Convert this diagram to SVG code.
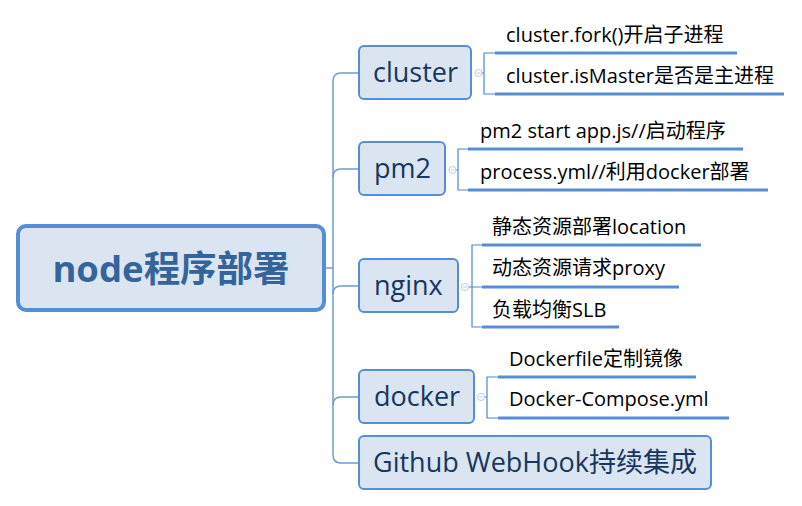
<svg xmlns="http://www.w3.org/2000/svg" width="802" height="506" viewBox="0 0 802 506">
<style>
.bg{fill:#ffffff}
.node rect{fill:#dbe5f1;stroke:#558ed5;stroke-width:2}
.root rect{fill:#dbe5f1;stroke:#558ed5;stroke-width:4}
.nt{font-family:"Open Sans","Noto Sans CJK SC",sans-serif;font-size:27px;fill:#17375e}
.rt{font-family:"Open Sans","Noto Sans CJK SC",sans-serif;font-size:36.5px;font-weight:bold;fill:#35649b}
.ct{font-family:"Open Sans","Noto Sans CJK SC",sans-serif;font-size:20px;fill:#000000}
.trunk{fill:none;stroke:#6f9bd6;stroke-width:1.5}
.br{fill:none;stroke:#4f86cf;stroke-width:1.2}
.ul{stroke:#558ed5;stroke-width:3}
.col circle{fill:#ffffff;stroke:#b7cbea;stroke-width:1}
.col line{stroke:#b7cbea;stroke-width:1}
</style>
<rect class="bg" x="0" y="0" width="802" height="506"/>
<g id="connectors">
  <path class="trunk" d="M326,268 H333"/>
  <path class="trunk" d="M359,73 H341 Q333,73 333,81 V455 Q333,463 341,463 H359"/>
  <path class="trunk" d="M333,177 Q333,169 341,169 H359"/>
  <path class="trunk" d="M333,294 Q333,286 341,286 H359"/>
  <path class="trunk" d="M333,405 Q333,397 341,397 H359"/>
  <!-- cluster children -->
  <path class="br" d="M482,73 H484 M495,53 H484 V94 H495"/>
  <line class="ul" x1="495" y1="53" x2="737" y2="53"/>
  <line class="ul" x1="495" y1="94" x2="784" y2="94"/>
  <!-- pm2 children -->
  <path class="br" d="M456,170 H458 M468,149 H458 V190 H468"/>
  <line class="ul" x1="468" y1="149" x2="743" y2="149"/>
  <line class="ul" x1="468" y1="190" x2="768" y2="190"/>
  <!-- nginx children -->
  <path class="br" d="M468,287 H482 M482,245 H472 V327 H482"/>
  <line class="ul" x1="482" y1="245" x2="701" y2="245"/>
  <line class="ul" x1="482" y1="287" x2="679" y2="287"/>
  <line class="ul" x1="482" y1="327" x2="619" y2="327"/>
  <!-- docker children -->
  <path class="br" d="M484,397 H487 M498,377 H487 V418 H498"/>
  <line class="ul" x1="498" y1="377" x2="696" y2="377"/>
  <line class="ul" x1="498" y1="418" x2="729" y2="418"/>
</g>
<g class="col">
  <circle cx="478.5" cy="73" r="3.5"/><line x1="476.5" y1="73" x2="480.5" y2="73"/>
  <circle cx="452.5" cy="170" r="3.5"/><line x1="450.5" y1="170" x2="454.5" y2="170"/>
  <circle cx="465" cy="287" r="3.5"/><line x1="463" y1="287" x2="467" y2="287"/>
  <circle cx="481" cy="397" r="3.5"/><line x1="479" y1="397" x2="483" y2="397"/>
</g>
<g id="root" class="root">
  <rect x="18" y="226" width="306" height="84" rx="8"/>
  <text class="rt" x="171" y="282" text-anchor="middle">node程序部署</text>
</g>
<g id="cluster" class="node">
  <rect x="359" y="46" width="112" height="53" rx="5"/>
  <text class="nt" x="373" y="82">cluster</text>
</g>
<g id="pm2" class="node">
  <rect x="359" y="142" width="86" height="53" rx="5"/>
  <text class="nt" x="374" y="178">pm2</text>
</g>
<g id="nginx" class="node">
  <rect x="359" y="259" width="99" height="53" rx="5"/>
  <text class="nt" x="374" y="295">nginx</text>
</g>
<g id="docker" class="node">
  <rect x="359" y="370" width="115" height="53" rx="5"/>
  <text class="nt" x="374" y="406">docker</text>
</g>
<g id="github" class="node">
  <rect x="359" y="436" width="352" height="53" rx="5"/>
  <text class="nt" x="373" y="472">Github WebHook持续集成</text>
</g>
<g id="cluster-fork"><text class="ct" x="506" y="42">cluster.fork()开启子进程</text></g>
<g id="cluster-ismaster"><text class="ct" x="506" y="83">cluster.isMaster是否是主进程</text></g>
<g id="pm2-start"><text class="ct" x="480" y="138">pm2 start app.js//启动程序</text></g>
<g id="pm2-process"><text class="ct" x="480" y="179">process.yml//利用docker部署</text></g>
<g id="nginx-static"><text class="ct" x="492" y="234">静态资源部署location</text></g>
<g id="nginx-proxy"><text class="ct" x="492" y="275">动态资源请求proxy</text></g>
<g id="nginx-slb"><text class="ct" x="492" y="317">负载均衡SLB</text></g>
<g id="docker-file"><text class="ct" x="509" y="366">Dockerfile定制镜像</text></g>
<g id="docker-compose"><text class="ct" x="509" y="406">Docker-Compose.yml</text></g>
</svg>
